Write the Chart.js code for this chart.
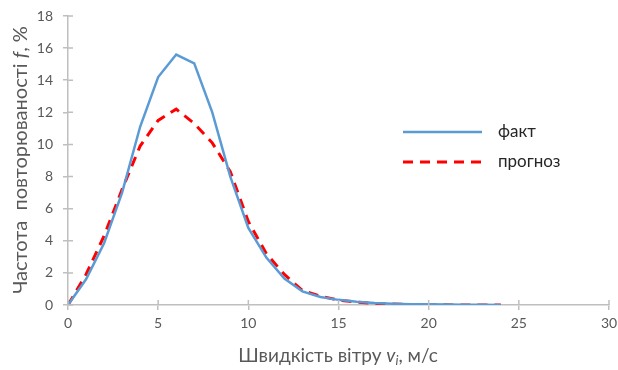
<!DOCTYPE html>
<html lang="uk">
<head>
   <meta charset="UTF-8" />
   <title>Частота повторюваності швидкості вітру</title>
   <style>
      body {
         margin: 0;
         padding: 0;
         background-color: #ffffff;
      }
      .chart-box {
         width: 618px;
         height: 370px;
      }
   </style>
   <script src="https://cdn.jsdelivr.net/npm/chart.js@4.4.1/dist/chart.umd.min.js"></script>
</head>
<body>
   <div class="chart-box">
      <canvas id="windChart" width="618" height="370"></canvas>
   </div>

   <script>
      // wind speed, m/s
      const windSpeed = [0, 1, 2, 3, 4, 5, 6, 7, 8, 9, 10, 11, 12, 13, 14, 15, 16, 17, 18, 19, 20, 21, 22, 23, 24];
      // observed frequency, %
      const factValues = [0, 1.6, 3.85, 7.0, 11.1, 14.2, 15.6, 15.05, 12.0, 8.0, 4.8, 2.95, 1.65, 0.85, 0.5, 0.32, 0.2, 0.12, 0.08, 0.05, 0.04, 0.03, 0.02, 0.01, 0];
      // forecast frequency, %
      const forecastValues = [0, 1.9, 4.3, 7.2, 9.9, 11.5, 12.2, 11.3, 10.1, 8.3, 5.2, 3.2, 1.9, 0.9, 0.55, 0.3, 0.18, 0.1, 0.06, 0.03, 0.02, 0.01, 0, 0, 0];
      const xTicks = [0, 5, 10, 15, 20, 25, 30];
      const yTicks = [0, 2, 4, 6, 8, 10, 12, 14, 16, 18];

      const axisColor = '#bfbfbf';
      const textColor = '#595959';
      const fontFamily = 'Lato, "Noto Sans", sans-serif';

      function toPoints(values) {
         return values.map((v, i) => ({ x: windSpeed[i], y: v }));
      }

      // short tick stubs on the inner side of both axes
      const innerTicks = {
         id: 'innerTicks',
         afterDraw(chart) {
            const ctx = chart.ctx;
            const xs = chart.scales.x;
            const ys = chart.scales.y;
            const area = chart.chartArea;
            ctx.save();
            ctx.strokeStyle = axisColor;
            ctx.lineWidth = 1.5;
            ctx.beginPath();
            xTicks.forEach(t => {
               const px = xs.getPixelForValue(t);
               ctx.moveTo(px, area.bottom);
               ctx.lineTo(px, area.bottom - 5);
            });
            yTicks.forEach(t => {
               const py = ys.getPixelForValue(t);
               ctx.moveTo(area.left, py);
               ctx.lineTo(area.left + 5, py);
            });
            ctx.stroke();
            ctx.restore();
         }
      };

      // axis titles with italic symbols and subscript
      const axisTitles = {
         id: 'axisTitles',
         afterDraw(chart) {
            const ctx = chart.ctx;
            ctx.save();
            ctx.fillStyle = textColor;
            ctx.textBaseline = 'middle';

            const plain = `19px ${fontFamily}`;
            const italic = `italic 19px ${fontFamily}`;
            const small = `italic 13px ${fontFamily}`;

            // x axis title
            const xParts = [
               { text: 'Швидкість вітру ', font: plain, dy: 0 },
               { text: 'v', font: italic, dy: 0 },
               { text: 'i', font: small, dy: 5 },
               { text: ', м/с', font: plain, dy: 0 }
            ];
            let total = 0;
            xParts.forEach(p => { ctx.font = p.font; p.w = ctx.measureText(p.text).width; total += p.w; });
            let cx = 338 - total / 2;
            xParts.forEach(p => {
               ctx.font = p.font;
               ctx.fillText(p.text, cx, 356 + p.dy);
               cx += p.w;
            });

            // y axis title
            const yTitle = `20px ${fontFamily}`;
            const yItalic = `italic 20px ${fontFamily}`;
            const yParts = [
               { text: 'Частота  повторюваності ', font: yTitle },
               { text: 'f', font: yItalic },
               { text: ', %', font: yTitle }
            ];
            total = 0;
            yParts.forEach(p => { ctx.font = p.font; p.w = ctx.measureText(p.text).width; total += p.w; });
            ctx.translate(21, 160);
            ctx.rotate(-Math.PI / 2);
            let cy = -total / 2;
            yParts.forEach(p => {
               ctx.font = p.font;
               ctx.fillText(p.text, cy, 0);
               cy += p.w;
            });
            ctx.restore();
         }
      };

      // legend inside the plot area
      const innerLegend = {
         id: 'innerLegend',
         afterDraw(chart) {
            const ctx = chart.ctx;
            ctx.save();
            chart.data.datasets.forEach((ds, i) => {
               const y = 132 + i * 30;
               ctx.strokeStyle = ds.borderColor;
               ctx.lineWidth = ds.borderWidth;
               ctx.setLineDash(ds.borderDash || []);
               ctx.beginPath();
               ctx.moveTo(403, y);
               ctx.lineTo(482, y);
               ctx.stroke();
               ctx.setLineDash([]);
               ctx.fillStyle = '#262626';
               ctx.font = `17px ${fontFamily}`;
               ctx.textBaseline = 'middle';
               ctx.fillText(ds.label, 498, y);
            });
            ctx.restore();
         }
      };

      const ctx = document.getElementById('windChart').getContext('2d');
      new Chart(ctx, {
         type: 'line',
         data: {
            datasets: [
               {
                  label: 'факт',
                  data: toPoints(factValues),
                  borderColor: '#5b9bd5',
                  borderWidth: 2.5,
                  pointRadius: 0,
                  tension: 0,
                  fill: false
               },
               {
                  label: 'прогноз',
                  data: toPoints(forecastValues),
                  borderColor: '#ff0000',
                  borderWidth: 3,
                  borderDash: [10, 7],
                  pointRadius: 0,
                  tension: 0,
                  fill: false
               }
            ]
         },
         options: {
            responsive: false,
            animation: false,
            layout: {
               padding: { top: 16, right: 9, left: 0, bottom: 0 }
            },
            plugins: {
               legend: { display: false },
               tooltip: { enabled: false }
            },
            scales: {
               x: {
                  type: 'linear',
                  min: 0,
                  max: 30,
                  afterFit(scale) {
                     scale.height = 65;
                     scale.paddingLeft = 0;
                     scale.paddingRight = 0;
                  },
                  afterBuildTicks(scale) { scale.ticks = xTicks.map(v => ({ value: v })); },
                  border: { color: axisColor, width: 1.5 },
                  grid: { drawOnChartArea: false, color: axisColor, lineWidth: 1.5, tickLength: 5 },
                  ticks: { color: textColor, font: { family: fontFamily, size: 14 }, padding: 5, maxRotation: 0 }
               },
               y: {
                  type: 'linear',
                  min: 0,
                  max: 18,
                  afterFit(scale) {
                     scale.width = 68;
                     scale.paddingTop = 0;
                     scale.paddingBottom = 0;
                  },
                  afterBuildTicks(scale) { scale.ticks = yTicks.map(v => ({ value: v })); },
                  border: { color: axisColor, width: 1.5 },
                  grid: { drawOnChartArea: false, color: axisColor, lineWidth: 1.5, tickLength: 5 },
                  ticks: { color: textColor, font: { family: fontFamily, size: 14 }, padding: 10 }
               }
            }
         },
         plugins: [innerTicks, axisTitles, innerLegend]
      });
   </script>
</body>
</html>
